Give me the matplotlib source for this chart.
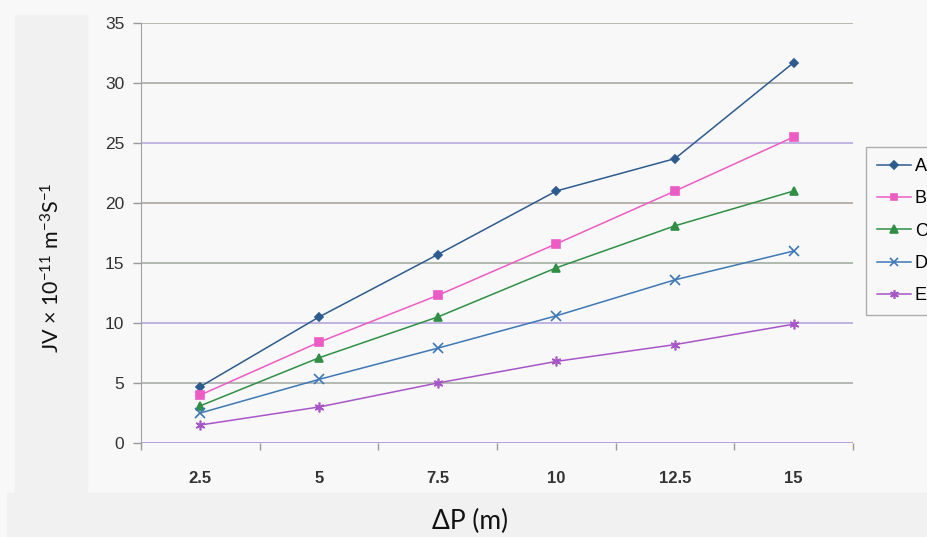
import matplotlib
matplotlib.use("Agg")
import matplotlib.pyplot as plt
from matplotlib.patches import Rectangle

# data
pressures = ["2.5", "5", "7.5", "10", "12.5", "15"]
series_names = ["A", "B", "C", "D", "E"]
jv_a = [4.7, 10.5, 15.7, 21.0, 23.7, 31.7]
jv_b = [4.0, 8.4, 12.3, 16.6, 21.0, 25.5]
jv_c = [3.1, 7.1, 10.5, 14.6, 18.1, 21.0]
jv_d = [2.5, 5.3, 7.9, 10.6, 13.6, 16.0]
jv_e = [1.5, 3.0, 5.0, 6.8, 8.2, 9.9]
y_ticks = [0, 5, 10, 15, 20, 25, 30, 35]

colors = ["#2d5b8e", "#ec5cc4", "#2f8f45", "#3d78b5", "#a656c6"]
markers = ["D", "s", "^", "x", (6, 2, 0)]
msizes = [4.5, 5.5, 6, 6.5, 7]
grid_colors = ["#a98fd8", "#a8aea8", "#b4a6dc", "#a2aea2", "#aca69e",
               "#b6a8de", "#a6aaa2", "#acb2a6"]

plt.rcParams["font.family"] = ["Liberation Sans", "DejaVu Sans"]
plt.rcParams["mathtext.default"] = "regular"

fig = plt.figure(figsize=(9.28, 5.37), dpi=100, facecolor="#f8f8f9")
W, H = 928, 537

# grey panels around the scanned chart
fig.patches.append(Rectangle((15 / W, 1 - 493 / H), 72 / W, 478 / H,
                             transform=fig.transFigure, color="#f1f1f1", zorder=0))
fig.patches.append(Rectangle((7 / W, 0), 1, 44 / H,
                             transform=fig.transFigure, color="#f1f1f1", zorder=0))

ax = fig.add_axes([141 / W, 1 - 443 / H, 712 / W, 420 / H])
ax.set_facecolor("none")

x = list(range(len(pressures)))
for name, vals, c, m, ms in zip(series_names, [jv_a, jv_b, jv_c, jv_d, jv_e],
                                colors, markers, msizes):
    ax.plot(x, vals, color=c, marker=m, markersize=ms, linewidth=1.1,
            markeredgewidth=1.2, label=name, zorder=3)

for yv, gc in zip(y_ticks, grid_colors):
    ax.axhline(yv, color=gc, linewidth=1.2, zorder=1)

ax.set_xlim(-0.5, len(pressures) - 0.5)
ax.set_ylim(0, 35)
ax.set_yticks(y_ticks)
ax.set_xticks(x)
ax.set_xticklabels(pressures, fontweight="bold")
ax.set_xticks([i - 0.5 for i in range(len(pressures) + 1)], minor=True)

ax.tick_params(axis="x", which="major", length=0, pad=20, labelsize=12,
               labelcolor="#333333")
ax.tick_params(axis="x", which="minor", length=5, width=1, color="#999999")
ax.tick_params(axis="y", length=6, width=1, color="#999999", pad=6,
               labelsize=12.5, labelcolor="#333333")

for s in ["top", "right", "bottom"]:
    ax.spines[s].set_visible(False)
ax.spines["left"].set_color("#a0a0a0")

fig.text(52 / W, 1 - 268 / H, "JV × 10$^{-11}$ m$^{-3}$S$^{-1}$",
         rotation=90, ha="center", va="center", fontsize=15.5,
         family=["Lato", "DejaVu Sans"], color="#111111")
fig.text(470 / W, 1 - 521 / H, "ΔP (m)", ha="center", va="center",
         fontsize=19, family=["Lato", "DejaVu Sans"], color="#111111")

leg = fig.legend(loc="upper left", bbox_to_anchor=(866 / W, 1 - 147 / H),
                 frameon=True, fancybox=False, fontsize=13, handlelength=1.9,
                 labelspacing=0.85, borderpad=0.6, handletextpad=0.2,
                 borderaxespad=0, markerscale=0.9)
leg.get_frame().set_edgecolor("#9a9a9a")
leg.get_frame().set_facecolor("#f8f8f9")
leg.get_frame().set_linewidth(1.0)

fig.savefig("out.png", dpi=100, facecolor=fig.get_facecolor())
